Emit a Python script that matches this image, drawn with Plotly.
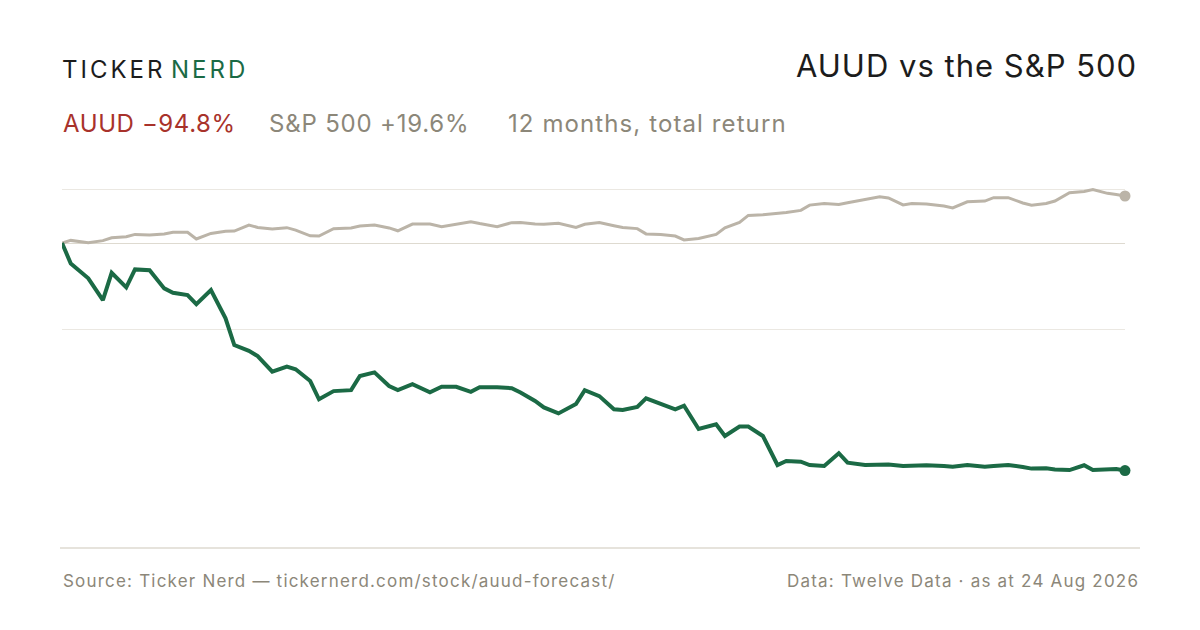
import pandas as pd
import plotly.graph_objects as go

# --- data -------------------------------------------------------------
START = "2025-08-25"
END = "2026-08-24"
NYSE_HOLIDAYS = ["2025-09-01", "2025-11-27", "2025-12-25", "2026-01-01",
                 "2026-01-19", "2026-02-16", "2026-04-03", "2026-05-25",
                 "2026-06-19", "2026-07-03"]

# total return in %, sampled every third trading day
auud_ret = [0, -8.5, -14.7, -23.8, -12.4, -18.5, -11.0, -11.3, -18.9, -20.7,
            -21.7, -25.5, -19.6, -31.4, -42.5, -44.9, -47.1, -53.6, -51.5, -52.6,
            -57.5, -65.1, -61.7, -61.3, -55.4, -53.9, -59.6, -61.3, -58.8, -62.2,
            -59.9, -59.9, -62.0, -60.1, -60.1, -60.5, -62.3, -65.8, -68.5, -71.0,
            -67.1, -61.3, -63.8, -69.3, -69.6, -68.3, -64.7, -67.1, -69.3, -67.8,
            -77.5, -75.5, -80.4, -76.5, -76.5, -80.4, -92.5, -90.8, -91.1, -92.5,
            -92.9, -87.6, -91.5, -92.5, -92.5, -92.3, -92.9, -92.8, -92.6, -92.9,
            -93.2, -92.5, -93.2, -92.9, -92.5, -93.3, -94.0, -93.9, -94.4, -94.6,
            -92.6, -94.6, -94.4, -94.2, -94.8]

spx_ret = [0, 1.1, 0.1, 1.0, 2.2, 2.6, 3.6, 3.3, 3.8, 4.5,
           4.5, 1.7, 4.0, 4.9, 5.0, 7.5, 6.5, 5.8, 6.4, 5.4,
           3.0, 2.9, 6.0, 6.3, 7.1, 7.5, 6.3, 5.1, 7.9, 7.9,
           6.8, 7.9, 8.9, 8.1, 6.8, 8.5, 8.6, 7.9, 7.8, 8.2,
           6.5, 7.8, 8.5, 7.2, 6.5, 6.0, 3.8, 3.6, 2.9, 1.3,
           1.9, 3.6, 6.3, 8.6, 11.5, 11.8, 12.3, 12.7, 13.6, 15.8,
           16.5, 16.1, 16.8, 18.1, 19.3, 18.8, 15.9, 16.5, 16.3, 15.4,
           14.6, 17.2, 17.5, 18.9, 18.9, 16.7, 15.8, 16.5, 17.5, 21.0,
           21.5, 22.3, 20.7, 20.2, 19.6]

GRID_VALUES = [22.4, -36.0]
Y_RANGE = [-123.75, 34.6]

GREEN = "#1b6a45"
SAND = "#bbb4a8"
RED = "#a8322b"
MUTED = "#8c8779"
INK = "#1c1c1c"
FONT = "Inter, 'Noto Sans', sans-serif"

# trading calendar: every third session, plus the last day
bday = pd.offsets.CustomBusinessDay(holidays=NYSE_HOLIDAYS)
sessions = pd.date_range(START, END, freq=bday)
dates = list(sessions[::3])
if dates[-1] != sessions[-1]:
    dates.append(sessions[-1])

# page offset (body margin) and plot area, in page pixels
OFF = 8
L, R, T, B = 62, 1125, 160, 540


def px_x(px):
    return (px - L) / (R - L)


def px_y(py):
    return (B - py) / (B - T)


def spaced(text, ls):
    return f'<span style="letter-spacing:{ls}px">{text}</span>'


fig = go.Figure()

fig.add_trace(go.Scatter(
    x=dates, y=spx_ret, mode="lines",
    line=dict(color=SAND, width=3), hoverinfo="skip"))
fig.add_trace(go.Scatter(
    x=dates, y=auud_ret, mode="lines",
    line=dict(color=GREEN, width=4), hoverinfo="skip"))

# end dots
fig.add_trace(go.Scatter(
    x=[dates[-1]], y=[spx_ret[-1]], mode="markers", cliponaxis=False,
    marker=dict(color=SAND, size=11), hoverinfo="skip"))
fig.add_trace(go.Scatter(
    x=[dates[-1]], y=[auud_ret[-1]], mode="markers", cliponaxis=False,
    marker=dict(color=GREEN, size=11), hoverinfo="skip"))

# bottom rule
fig.add_shape(type="line", xref="paper", yref="paper",
              x0=px_x(60), x1=px_x(1140), y0=px_y(548), y1=px_y(548),
              line=dict(color="#dedad0", width=1.5))

ann = []
# logo
ann.append(dict(text=spaced("TICKER", 3), x=px_x(60), y=px_y(70), xanchor="left",
                yanchor="middle", font=dict(size=24, color=INK, family=FONT)))
ann.append(dict(text=spaced("NERD", 3), x=px_x(169), y=px_y(70), xanchor="left",
                yanchor="middle", font=dict(size=24, color=GREEN, family=FONT)))
# title
ann.append(dict(text=spaced("AUUD vs the S&P 500", 1), x=px_x(1139), y=px_y(66),
                xanchor="right", yanchor="middle",
                font=dict(size=31, color=INK, family=FONT)))
# subtitle
ann.append(dict(text=spaced("AUUD −94.8%", 0.6), x=px_x(61), y=px_y(124), xanchor="left",
                yanchor="middle", font=dict(size=24, color=RED, family=FONT)))
ann.append(dict(text=spaced("S&P 500 +19.6%", 0.8), x=px_x(267), y=px_y(124),
                xanchor="left", yanchor="middle",
                font=dict(size=24, color=MUTED, family=FONT)))
ann.append(dict(text=spaced("12 months, total return", 1.1), x=px_x(506), y=px_y(124),
                xanchor="left", yanchor="middle",
                font=dict(size=24, color=MUTED, family=FONT)))
# footer
ann.append(dict(text=spaced("Source: Ticker Nerd — tickernerd.com/stock/auud-forecast/", 1.2),
                x=px_x(61), y=px_y(581), xanchor="left", yanchor="middle",
                font=dict(size=17, color=MUTED, family=FONT)))
ann.append(dict(text=spaced("Data: Twelve Data · as at 24 Aug 2026", 1.2),
                x=px_x(1141), y=px_y(581), xanchor="right", yanchor="middle",
                font=dict(size=17, color=MUTED, family=FONT)))
for a in ann:
    a.update(xref="paper", yref="paper", showarrow=False)

fig.update_layout(
    width=1200, height=630,
    margin=dict(l=L - OFF, r=1200 - R + OFF, t=T - OFF, b=630 - B + OFF),
    paper_bgcolor="white", plot_bgcolor="white",
    showlegend=False,
    annotations=ann,
    xaxis=dict(range=[dates[0], dates[-1]], showgrid=False, zeroline=False,
               showticklabels=False, showline=False, ticks=""),
    yaxis=dict(range=Y_RANGE, tickvals=GRID_VALUES, showticklabels=False,
               showgrid=True, gridcolor="#ebe8e2", gridwidth=1,
               zeroline=True, zerolinecolor="#dedad0", zerolinewidth=1,
               showline=False, ticks=""),
)

fig.write_html("out.html")
